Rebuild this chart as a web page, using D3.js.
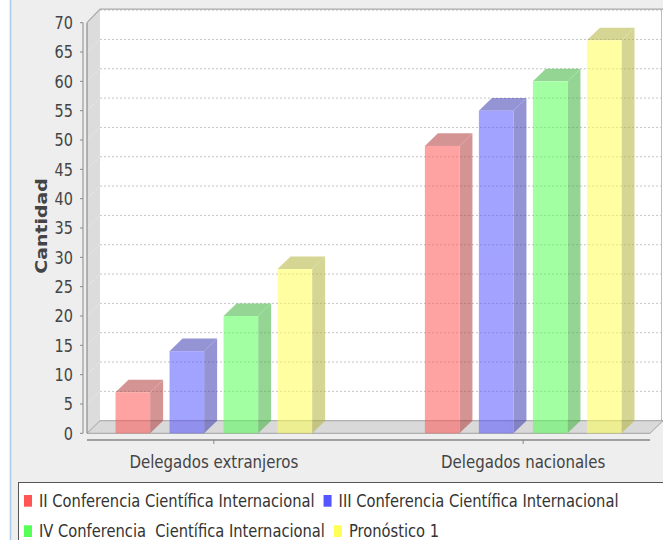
<!DOCTYPE html>
<html>
<head>
<meta charset="utf-8">
<script src="https://cdn.jsdelivr.net/npm/d3@7"></script>
<style>
  html, body { margin: 0; padding: 0; background: #ffffff; }
  svg { display: block; }
  text { font-family: "DejaVu Sans", sans-serif; }
</style>
</head>
<body>
<svg id="chart" width="663" height="540"></svg>
<script>
// Categories and series
const categories = ["Delegados extranjeros", "Delegados nacionales"];
const seriesNames = [
  "II Conferencia Científica Internacional",
  "III Conferencia Científica Internacional",
  "IV Conferencia  Científica Internacional",
  "Pronóstico 1"
];
const seriesColors = ["#ff5555", "#5555ff", "#55ff55", "#ffff55"];
// One value per category, per series
const valuesII = [7, 49];
const valuesIII = [14, 55];
const valuesIV = [20, 60];
const valuesPronostico = [28, 67];
const seriesValues = [valuesII, valuesIII, valuesIV, valuesPronostico];
const yTicks = [0, 5, 10, 15, 20, 25, 30, 35, 40, 45, 50, 55, 60, 65, 70];

const svg = d3.select("#chart");
const W = 663, H = 540;
const textStretch = 1.22;   // glyphs are drawn slightly tall
const barAlpha = 0.54;

// Plot geometry (front plane) and 3D depth
const plotLeft = 87, plotRight = 650, plotBottom = 433.3, plotTop = 22.7;
const dx = 13, dy = 12.6;

const y = d3.scaleLinear().domain([0, 70]).range([plotBottom, plotTop]);
const x = d3.scalePoint().domain(categories).range([plotLeft, plotRight]).padding(0.41);
const inner = d3.scaleBand().domain(seriesNames).range([-98.3, 98.3]).paddingInner(0.36);

// Panel background
svg.append("rect").attr("x", 0).attr("y", 0).attr("width", W).attr("height", H).attr("fill", "#ffffff");
svg.append("rect").attr("x", 11).attr("y", 0).attr("width", W - 11).attr("height", H).attr("fill", "#eeeeee");
svg.append("line").attr("x1", 10.5).attr("x2", 10.5).attr("y1", 0).attr("y2", H)
  .attr("stroke", "#a9cbe8").attr("stroke-width", 1.5);

// Back plane
const backTop = plotTop - dy, backBottom = plotBottom - dy;
svg.append("rect")
  .attr("x", plotLeft + dx).attr("y", backTop - 1)
  .attr("width", W - (plotLeft + dx) + 5).attr("height", backBottom - backTop + 1)
  .attr("fill", "#ffffff");

// Left wall
svg.append("path")
  .attr("d", `M${plotLeft},${plotTop}L${plotLeft + dx},${backTop - 1}L${plotLeft + dx},${backBottom}L${plotLeft},${plotBottom}Z`)
  .attr("fill", "#dcdcdc").attr("stroke", "none");

// Gridlines on the back plane and along the wall
const grid = svg.append("g");
yTicks.filter(d => d > 0).forEach(v => {
  const fy = y(v), by = y(v) - dy;
  grid.append("line")
    .attr("x1", plotLeft + dx).attr("x2", W).attr("y1", by).attr("y2", by)
    .attr("stroke", "#c4c4c4").attr("stroke-width", 1).attr("stroke-dasharray", "2,2");
  grid.append("line")
    .attr("x1", plotLeft).attr("x2", plotLeft + dx).attr("y1", fy).attr("y2", by)
    .attr("stroke", "#eeeeee").attr("stroke-width", 1).attr("stroke-dasharray", "2,2");
});

// Outline of the back plane
svg.append("path")
  .attr("d", `M${plotLeft},${plotTop}L${plotLeft + dx},${backTop - 1}L${W + 2},${backTop - 1}`)
  .attr("fill", "none").attr("stroke", "#a8a8a8").attr("stroke-width", 1.2);
svg.append("line")
  .attr("x1", 661.5).attr("x2", 661.5).attr("y1", backTop - 1).attr("y2", backBottom)
  .attr("stroke", "#bdbdbd").attr("stroke-width", 1);

// Floor
svg.append("path")
  .attr("d", `M${plotLeft},${plotBottom}L${plotLeft + dx},${backBottom}L${plotRight + dx},${backBottom}L${plotRight},${plotBottom}Z`)
  .attr("fill", "#d9d9d9").attr("stroke", "#a0a0a0").attr("stroke-width", 1);
svg.append("line")
  .attr("x1", plotLeft).attr("x2", plotLeft).attr("y1", plotTop).attr("y2", plotBottom)
  .attr("stroke", "#8c8c8c").attr("stroke-width", 1.2);

// Bars
const bars = svg.append("g");
seriesNames.forEach((s, si) => {
  const dark = d3.color(seriesColors[si]).darker(1.0).formatHex();
  categories.forEach((c, ci) => {
    const v = seriesValues[si][ci];
    const x0 = x(c) + inner(s);
    const w = inner.bandwidth();
    const ty = y(v), by = y(0);
    const g = bars.append("g").attr("opacity", barAlpha);
    // side face
    g.append("path")
      .attr("d", `M${x0 + w},${ty}L${x0 + w + dx},${ty - dy}L${x0 + w + dx},${by - dy}L${x0 + w},${by}Z`)
      .attr("fill", dark);
    // top face
    g.append("path")
      .attr("d", `M${x0},${ty}L${x0 + dx},${ty - dy}L${x0 + w + dx},${ty - dy}L${x0 + w},${ty}Z`)
      .attr("fill", dark);
    // front face
    g.append("rect")
      .attr("x", x0).attr("y", ty).attr("width", w).attr("height", by - ty)
      .attr("fill", seriesColors[si]);
  });
});

// Y axis
const yAxisX = 83;
svg.append("line").attr("x1", yAxisX).attr("x2", yAxisX).attr("y1", y(70)).attr("y2", y(0))
  .attr("stroke", "#8a8a8a").attr("stroke-width", 1);
const yt = svg.append("g");
yTicks.forEach(v => {
  yt.append("line").attr("x1", yAxisX - 3).attr("x2", yAxisX).attr("y1", y(v)).attr("y2", y(v))
    .attr("stroke", "#8a8a8a");
  yt.append("text")
    .attr("transform", `translate(73,${y(v) + 6.4}) scale(1,${textStretch})`)
    .attr("text-anchor", "end").attr("font-size", 14.5).attr("fill", "#444")
    .text(v);
});

// Axis title
svg.append("text")
  .attr("transform", `translate(46.5,226) scale(1,${textStretch}) rotate(-90)`)
  .attr("text-anchor", "middle").attr("font-size", 15.5).attr("font-weight", "bold")
  .attr("fill", "#444").text("Cantidad");

// X axis
svg.append("line").attr("x1", plotLeft).attr("x2", plotRight).attr("y1", 440).attr("y2", 440)
  .attr("stroke", "#a0a0a0").attr("stroke-width", 2);
categories.forEach(c => {
  svg.append("line").attr("x1", x(c)).attr("x2", x(c)).attr("y1", 440).attr("y2", 444)
    .attr("stroke", "#8a8a8a");
  svg.append("text")
    .attr("transform", `translate(${x(c)},467.5) scale(1,${textStretch})`)
    .attr("text-anchor", "middle").attr("font-size", 15).attr("fill", "#444")
    .text(c);
});

// Legend
svg.append("rect").attr("x", 18.5).attr("y", 482.5).attr("width", 700).attr("height", 80)
  .attr("fill", "#ffffff").attr("stroke", "#555").attr("stroke-width", 1);
const legendRows = [[0, 1], [2, 3]];
const rowBaselines = [506.7, 537];
const leg = svg.append("g");
legendRows.forEach((row, ri) => {
  let cx = 24;
  row.forEach(si => {
    const bl = rowBaselines[ri];
    leg.append("rect").attr("x", cx).attr("y", bl - 11.7).attr("width", 8).attr("height", 11.7)
      .attr("fill", seriesColors[si]);
    const t = leg.append("text")
      .attr("transform", `translate(${cx + 15},${bl}) scale(1,${textStretch - 0.07})`)
      .attr("font-size", 14.7).attr("fill", "#333")
      .style("white-space", "pre")
      .text(seriesNames[si]);
    cx = cx + 15 + t.node().getComputedTextLength() + 9;
  });
});
</script>
</body>
</html>
